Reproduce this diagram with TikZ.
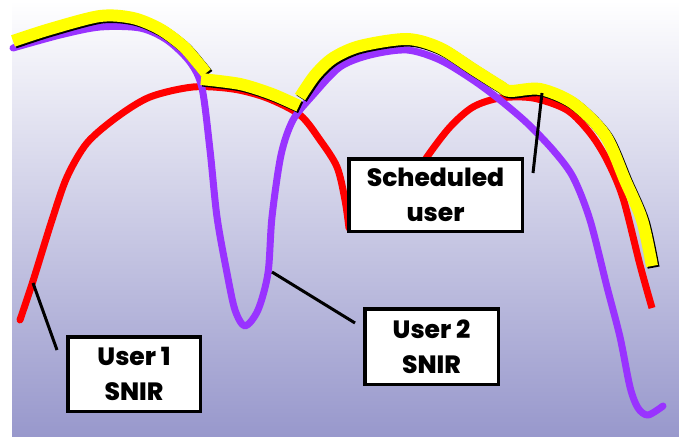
\documentclass[tikz,border=0pt]{standalone}
\usepackage{fontspec}
\setmainfont{Poppins}
\newfontfamily\lblfont{Poppins ExtraBold}
\begin{document}
\begin{tikzpicture}[x=1pt,y=-1pt]
\definecolor{bgbot}{RGB}{152,152,204}
\definecolor{snirred}{RGB}{255,0,0}
\definecolor{snirpurple}{RGB}{153,51,255}
\definecolor{schedyellow}{RGB}{255,255,0}
\tikzset{
  snir/.style={line width=7pt, line join=round},
  sched/.style={line width=12pt, line join=round, color=schedyellow},
  schedshadow/.style={line width=12pt, line join=round, color=black, shift={(1.6,1.6)}},
  lbl/.style={draw=black, line width=3.5pt, fill=white, align=center, inner sep=0pt,
    font=\fontsize{25}{35}\selectfont\lblfont},
  pointer/.style={draw=black, line width=3pt}
}
\useasboundingbox (0,0) rectangle (679,436);
% background gradient
\shade[top color=white, bottom color=bgbot] (12,0) rectangle (679,436);

% user 1 SNIR
\draw[snir, snirred, line cap=round] plot[smooth, tension=0.5] coordinates {
  (20,320) (33,281) (52,220) (67,177) (87,143) (117,117) (150,97) (193,87)
  (233,89) (267,98) (300,115) (320,140) (337,167) (345,200) (349,228)};
\draw[snir, snirred] plot[smooth, tension=0.5] coordinates {
  (410,185) (427,157) (450,127) (473,107) (500,98) (533,98) (567,110)
  (590,133) (607,160) (623,198) (640,265) (652,308)};

% user 2 SNIR
\draw[snir, snirpurple, line cap=round] plot[smooth, tension=0.5] coordinates {
  (13,48) (60,35) (100,27) (140,28) (167,40) (190,62) (202,88) (210,150)
  (217,217) (227,273) (235,310) (245,326) (258,310) (268,273) (272,217)
  (281,155) (293,120) (313,95) (340,67) (370,55) (407,50) (440,60) (473,80)
  (500,100) (527,123) (553,150) (573,177) (590,220) (607,287) (620,337)
  (630,387) (638,408) (648,415) (663,406)};

% scheduled user (maximum of both)
\foreach \sty in {schedshadow, sched} {
  \draw[\sty] plot[smooth, tension=0.5] coordinates {
    (13,41) (50,29) (100,16) (133,18) (160,29) (183,46) (198,63) (206,73)};
  \draw[\sty] plot[smooth, tension=0.5] coordinates {
    (201,79) (240,84) (272,94) (299,106)};
  \draw[\sty] plot[smooth, tension=0.5] coordinates {
    (300,97) (315,75) (333,58) (360,46) (407,39) (440,48) (473,69) (500,86)
    (510,91) (540,89) (573,103) (605,135) (625,180) (642,220) (652,266)};
}

% label pointers
\coordinate (p1a) at (33,283);
\coordinate (p1b) at (57,350);
\coordinate (p2a) at (272,272);
\coordinate (p2b) at (355,323);
\coordinate (p3a) at (542,93);
\coordinate (p3b) at (533,173);
\draw[pointer] (p1a) -- (p1b);
\draw[pointer] (p2a) -- (p2b);
\draw[pointer] (p3a) -- (p3b);

% labels
\node[lbl, minimum width=132.5pt, minimum height=74.5pt] (user1) at (134,374) {User 1\\SNIR};
\node[lbl, minimum width=133.5pt, minimum height=75.5pt] (user2) at (431.5,346.5) {User 2\\SNIR};
\node[lbl, minimum width=173.5pt, minimum height=72.5pt] (sched) at (435.5,195) {Scheduled\\user};
\end{tikzpicture}
\end{document}
